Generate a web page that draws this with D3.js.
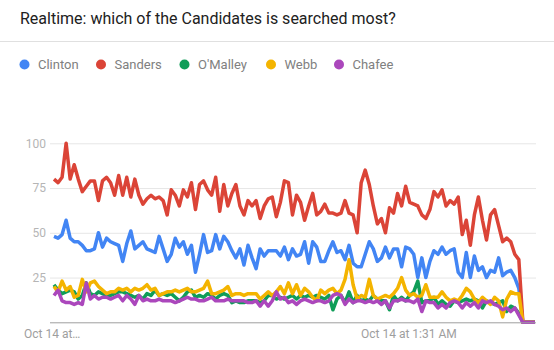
<!DOCTYPE html>
<html>
<head>
<meta charset="utf-8">
<script src="https://cdnjs.cloudflare.com/ajax/libs/d3/7.8.5/d3.min.js"></script>
<style>
  html, body { margin: 0; padding: 0; background: #fff; }
  svg { display: block; font-family: Roboto, "Noto Sans", sans-serif; }
</style>
</head>
<body>
<svg id="chart" width="554" height="350"></svg>
<script>
const title = "Realtime: which of the Candidates is searched most?";
const seriesNames = ["Clinton", "Sanders", "O'Malley", "Webb", "Chafee"];
const seriesColors = ["#4285f4", "#db4437", "#0f9d58", "#f4b400", "#ab47bc"];
const yTicks = [25, 50, 75, 100];
const xTickLabels = ["Oct 14 at…", "Oct 14 at 1:31 AM"];

const clinton = [
  48,47,49,57,47,45,45,43,40,40,41,50,42,47,45,44,43,34,44,51,41,43,45,
  41,40,39,48,41,34,38,47,42,45,38,43,28,38,49,39,40,49,41,48,45,40,36,41,
  32,43,36,30,41,37,40,40,40,37,42,35,41,37,38,45,33,45,42,34,34,40,45,39,
  40,35,43,33,31,31,38,45,41,34,36,42,36,41,41,31,42,41,38,25,36,25,34,40,
  38,42,38,40,41,28,25,39,25,37,29,31,25,29,28,36,26,28,29,25,19,0,
  0,0,0
];
const sanders = [
  80,78,81,100,80,88,80,73,76,79,79,68,79,81,78,71,82,71,81,70,80,71,66,
  69,71,69,70,68,60,74,71,65,74,70,78,63,77,79,74,71,81,62,77,65,72,77,65,
  60,68,65,68,58,65,69,70,59,67,79,78,60,71,67,57,65,72,60,62,66,61,61,60,
  61,68,61,60,50,78,85,77,65,55,58,50,64,61,72,65,76,67,66,65,60,58,63,73,
  70,74,65,68,66,70,49,57,43,60,70,57,46,60,63,54,45,47,45,38,35,0,
  0,0,0
];
const omalley = [
  21,18,16,17,18,17,13,15,22,16,15,17,16,15,15,16,17,17,16,15,14,15,13,
  16,15,18,15,16,15,16,14,12,14,17,18,14,15,14,16,15,13,15,16,15,11,12,11,
  11,12,12,12,11,12,15,15,13,14,13,14,15,13,15,14,15,14,15,14,13,15,7,13,
  15,11,17,11,15,12,13,12,15,13,12,12,7,15,12,14,12,15,17,23,11,12,12,14,
  10,12,10,9,12,11,12,13,12,13,12,8,12,11,10,11,12,6,9,8,5,0,
  0,0,0
];
const webb = [
  20,17,23,18,20,14,15,24,17,22,23,20,18,16,17,17,19,18,19,17,19,18,19,
  21,18,19,15,16,17,17,18,17,18,19,17,17,18,19,23,16,16,17,18,20,15,16,16,
  15,16,16,16,13,15,17,15,17,20,16,22,16,21,15,19,17,14,12,18,16,18,19,16,
  18,24,35,21,13,15,14,24,15,13,14,15,14,16,19,25,18,15,16,14,15,21,14,14,
  14,17,14,12,13,12,15,19,17,13,11,14,12,10,14,12,3,13,17,16,16,0,
  0,0,0
];
const chafee = [
  15,18,12,11,11,10,11,10,22,13,15,13,14,14,13,14,15,12,15,13,10,15,12,
  13,12,12,13,12,12,12,11,12,13,14,13,13,12,12,13,14,12,12,12,13,12,12,12,
  12,11,11,12,9,12,9,12,17,13,14,11,12,10,12,13,12,11,12,12,11,12,15,16,
  15,10,13,11,12,12,11,12,11,12,10,12,8,12,12,13,12,12,11,13,6,12,11,11,
  8,10,8,11,12,11,8,11,9,11,8,12,11,12,10,9,7,8,6,8,4,0,
  0,0,0
];
const seriesValues = [clinton, sanders, omalley, webb, chafee];

const svg = d3.select("#chart");

// Title
svg.append("text")
  .attr("x", 20).attr("y", 24)
  .attr("font-size", 16).attr("fill", "#212121")
  .text(title);

// Separator
svg.append("line")
  .attr("x1", 0).attr("x2", 554).attr("y1", 41.5).attr("y2", 41.5)
  .attr("stroke", "#e0e0e0").attr("stroke-width", 1);

// Legend
const legendX = [24.5, 101, 184.5, 271, 339];
const legend = svg.append("g");
seriesNames.forEach((name, i) => {
  const g = legend.append("g").attr("transform", `translate(${legendX[i]},64.5)`);
  g.append("circle").attr("r", 5).attr("fill", seriesColors[i]);
  g.append("text").attr("x", 13.5).attr("y", 4.5)
    .attr("font-size", 13).attr("fill", "#808080").text(name);
});

// Scales
const plotLeft = 50, plotRight = 536, plotTop = 143.3, plotBottom = 322.3;
const n = clinton.length;
const x = d3.scaleLinear().domain([0, n - 1]).range([54, 535]);
const y = d3.scaleLinear().domain([0, 100]).range([plotBottom, plotTop]);

// Gridlines
const grid = svg.append("g")
  .attr("transform", `translate(${plotLeft},0)`)
  .call(d3.axisLeft(y).tickValues(yTicks).tickSize(-(plotRight - plotLeft)).tickFormat(""));
grid.select(".domain").remove();
grid.selectAll(".tick line").attr("stroke", "#e6e6e6").attr("stroke-width", 1);

// Y labels
const yAxis = svg.append("g")
  .attr("transform", `translate(${plotLeft - 4},0)`)
  .call(d3.axisLeft(y).tickValues(yTicks).tickSize(0).tickPadding(0));
yAxis.select(".domain").remove();
yAxis.selectAll("text")
  .attr("font-family", "Roboto, sans-serif")
  .attr("font-size", 12).attr("fill", "#b5b5b5");

// Lines
const line = d3.line()
  .x((d, i) => x(i))
  .y(d => y(d))
  .curve(d3.curveLinear);

seriesValues.forEach((vals, i) => {
  svg.append("path")
    .datum(vals)
    .attr("fill", "none")
    .attr("stroke", seriesColors[i])
    .attr("stroke-width", 3.5)
    .attr("stroke-linejoin", "round")
    .attr("d", line);
});

// X axis baseline
svg.append("line")
  .attr("x1", plotLeft).attr("x2", plotRight)
  .attr("y1", plotBottom + 0.5).attr("y2", plotBottom + 0.5)
  .attr("stroke", "#9e9e9e").attr("stroke-width", 1);

// X labels
const xLabelPos = [24, 361];
xTickLabels.forEach((lab, i) => {
  svg.append("text")
    .attr("x", xLabelPos[i]).attr("y", 338)
    .attr("font-size", 12).attr("fill", "#9e9e9e")
    .text(lab);
});
</script>
</body>
</html>
